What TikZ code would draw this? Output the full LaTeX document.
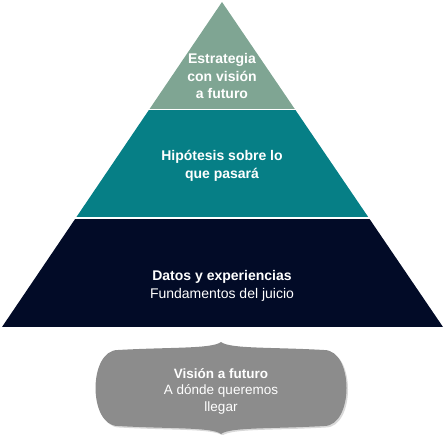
\documentclass[tikz,border=0pt]{standalone}
\usepackage{fontspec}
\setmainfont{Liberation Sans}

\definecolor{pyrSage}{HTML}{7FA593}
\definecolor{pyrTeal}{HTML}{067F86}
\definecolor{pyrNavy}{HTML}{020B27}
\definecolor{bannerGray}{HTML}{8C8C8C}

\begin{document}
\begin{tikzpicture}[x=1pt, y=-1pt,
    tiertext/.style={text=white, align=center, font=\fontsize{14}{17.5}\selectfont},
    bannertext/.style={text=white, align=center, font=\fontsize{13.5}{16.5}\selectfont}]
    \useasboundingbox (0,0) rectangle (446,435);

    % pyramid, cut into three bands
    \begin{scope}
        \clip (222,2) -- (443,327) -- (2,327) -- cycle;
        \fill[pyrSage] (0,0) rectangle (446,109);
        \fill[pyrTeal] (0,110.5) rectangle (446,217.5);
        \fill[pyrNavy] (0,219) rectangle (446,327);
    \end{scope}

    \node[tiertext] (vision) at (222,76) {\textbf{Estrategia}\\\textbf{con visión}\\\textbf{a futuro}};
    \node[tiertext] (hypo) at (222,166) {\textbf{Hipótesis sobre lo}\\\textbf{que pasará}};
    \node[tiertext] (data) at (222,286) {\textbf{Datos y experiencias}\\Fundamentos del juicio};

    % banner below
    \fill[gray!30, shift={(1.5,1.5)}]
        (221,342) .. controls (212,349) and (170,347) .. (118,350)
        .. controls (88,350) and (88,426) .. (118,426)
        .. controls (170,429) and (212,427) .. (221,434)
        .. controls (230,427) and (272,429) .. (324,426)
        .. controls (354,426) and (354,350) .. (324,350)
        .. controls (272,347) and (230,349) .. cycle;
    \fill[bannerGray]
        (221,342) .. controls (212,349) and (170,347) .. (118,350)
        .. controls (88,350) and (88,426) .. (118,426)
        .. controls (170,429) and (212,427) .. (221,434)
        .. controls (230,427) and (272,429) .. (324,426)
        .. controls (354,426) and (354,350) .. (324,350)
        .. controls (272,347) and (230,349) .. cycle;

    \node[bannertext] (goal) at (221,391) {\textbf{Visión a futuro}\\A dónde queremos\\llegar};
\end{tikzpicture}
\end{document}
